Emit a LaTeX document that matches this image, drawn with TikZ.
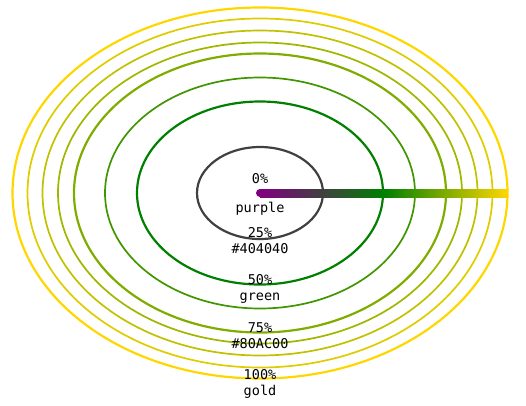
\documentclass[tikz,border=0pt]{standalone}
\usepackage{fontspec}
\setmonofont{DejaVu Sans Mono}
\usepackage{tikz}

\definecolor{svgpurple}{HTML}{800080}
\definecolor{gray40}{HTML}{404040}
\definecolor{svggreen}{HTML}{008000}
\definecolor{mixgreen}{HTML}{409600}
\definecolor{lime80}{HTML}{80AC00}
\definecolor{limeA}{HTML}{A0B700}
\definecolor{limeB}{HTML}{C0C100}
\definecolor{limeC}{HTML}{DFCC00}
\definecolor{svggold}{HTML}{FFD700}

\pgfdeclarehorizontalshading{barfade}{100bp}{color(0bp)=(svgpurple); color(25bp)=(svgpurple); color(37.5bp)=(gray40); color(50bp)=(svggreen); color(62.5bp)=(lime80); color(75bp)=(svggold); color(100bp)=(svggold)}

\tikzset{
  stopring/.style={line width=2.2pt},
  midring/.style={line width=1.7pt},
  stoplabel/.style={anchor=base,align=center,font=\ttfamily\fontsize{13.5}{16}\selectfont}
}

\begin{document}
\begin{tikzpicture}[x=1pt,y=1pt]
		\useasboundingbox (-260,-212) rectangle (266,193);
		% the bar from 0% to 100%
		\fill[svgpurple] (0,0) circle (4);
		\shade[shading=barfade] (0,-4) rectangle (248,4);
		% rings
		\draw[stopring,gray40] (0,0) ellipse [x radius=63,y radius=46];
		\draw[stopring,svggreen] (0,0) ellipse [x radius=123,y radius=91.5];
		\draw[midring,mixgreen] (0,0) ellipse [x radius=155,y radius=115.5];
		\draw[stopring,lime80] (0,0) ellipse [x radius=186,y radius=139.5];
		\draw[midring,limeA] (0,0) ellipse [x radius=202,y radius=150.5];
		\draw[midring,limeB] (0,0) ellipse [x radius=217.5,y radius=162.5];
		\draw[midring,limeC] (0,0) ellipse [x radius=232.5,y radius=174.5];
		\draw[stopring,svggold] (0,0) ellipse [x radius=247.5,y radius=185.5];
		% labels (base is the last line)
		\node[stoplabel] (zero) at (0,10) {0\%};
		\node[stoplabel] (purple) at (0,-19) {purple};
		\node[stoplabel] (quarter) at (0,-60) {25\%\\\#404040};
		\node[stoplabel] (half) at (0,-107) {50\%\\green};
		\node[stoplabel] (threeq) at (0,-155) {75\%\\\#80AC00};
		\node[stoplabel] (full) at (0,-202) {100\%\\gold};
	\end{tikzpicture}
\end{document}
